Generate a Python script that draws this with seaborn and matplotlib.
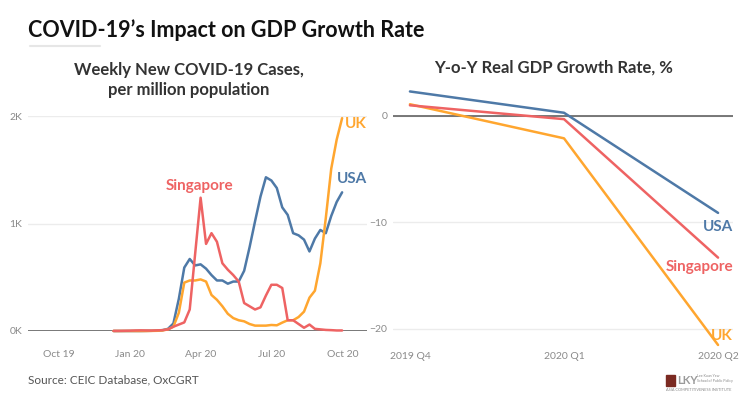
import matplotlib
matplotlib.use("Agg")
import matplotlib.pyplot as plt
import matplotlib.dates as mdates
from matplotlib.ticker import FuncFormatter
import seaborn as sns
import pandas as pd

# weekly new cases per million population
week_start = "2019-12-11"
n_weeks = 43
sg_cases = [1, 1, 2, 3, 5, 6, 5, 4, 6, 8,
            15, 40, 60, 80, 200, 720, 1240, 810, 910, 830,
            630, 570, 520, 460, 260, 230, 200, 220, 330, 430,
            430, 400, 100, 100, 65, 30, 60, 20, 15, 10,
            8, 5, 5]
usa_cases = [0, 0, 0, 0, 0, 0, 1, 2, 4, 8,
             20, 70, 300, 590, 670, 610, 620, 580, 520, 470,
             470, 440, 460, 460, 560, 780, 1020, 1250, 1430, 1400,
             1330, 1150, 1080, 910, 890, 850, 740, 860, 940, 910,
             1070, 1200, 1290]
uk_cases = [0, 0, 0, 0, 0, 0, 0, 1, 2, 5,
            15, 40, 170, 450, 470, 470, 480, 460, 335, 290,
            230, 160, 120, 100, 90, 65, 50, 50, 50, 56,
            53, 78, 100, 100, 130, 180, 310, 375, 630, 1050,
            1510, 1780, 1980]

# year-on-year real GDP growth, %
quarters = ["2019 Q4", "2020 Q1", "2020 Q2"]
usa_gdp = [2.3, 0.3, -9.1]
sg_gdp = [1.0, -0.3, -13.3]
uk_gdp = [1.1, -2.1, -21.5]

colors = {"USA": "#4E79A7", "Singapore": "#EE6363", "UK": "#FFA62F"}
order = ["USA", "UK", "Singapore"]

weeks = pd.date_range(week_start, periods=n_weeks, freq="7D")
cases = pd.concat([
    pd.DataFrame({"week": weeks, "cases": usa_cases, "country": "USA"}),
    pd.DataFrame({"week": weeks, "cases": uk_cases, "country": "UK"}),
    pd.DataFrame({"week": weeks, "cases": sg_cases, "country": "Singapore"}),
])
gdp = pd.concat([
    pd.DataFrame({"quarter": quarters, "growth": usa_gdp, "country": "USA"}),
    pd.DataFrame({"quarter": quarters, "growth": uk_gdp, "country": "UK"}),
    pd.DataFrame({"quarter": quarters, "growth": sg_gdp, "country": "Singapore"}),
])

sns.set_style("white")
plt.rcParams["font.family"] = ["Lato", "DejaVu Sans"]

fig = plt.figure(figsize=(7.49, 3.94), dpi=100)
ax1 = fig.add_axes([28 / 749, 63 / 394, 339 / 749, 215 / 394])
ax2 = fig.add_axes([393 / 749, 43.7 / 394, 340 / 749, 266.3 / 394])

tick_color = "#8a8a8a"

# left: weekly cases
sns.lineplot(data=cases, x="week", y="cases", hue="country", hue_order=order,
             palette=colors, linewidth=1.8, legend=False, ax=ax1, clip_on=False)
ax1.set_xlim(pd.Timestamp("2019-08-23"), pd.Timestamp("2020-11-01"))
ax1.set_ylim(0, 2000)
ax1.set_yticks([0, 1000, 2000])
ax1.yaxis.set_major_formatter(FuncFormatter(lambda v, p: f"{int(v / 1000)}K"))
ax1.set_xticks(pd.to_datetime(["2019-10-01", "2020-01-01", "2020-04-01",
                               "2020-07-01", "2020-10-01"]))
ax1.xaxis.set_major_formatter(mdates.DateFormatter("%b %y"))
ax1.grid(axis="y", color="#ececec", linewidth=1)
ax1.axhline(0, color="#555555", linewidth=1.1, zorder=1)
ax1.set_xlabel("")
ax1.set_ylabel("")
ax1.tick_params(axis="x", length=0, pad=14, labelsize=7.5, labelcolor=tick_color)
ax1.tick_params(axis="y", length=0, pad=4, labelsize=7.5, labelcolor=tick_color)
for s in ax1.spines.values():
    s.set_visible(False)

ax1.text(pd.Timestamp("2020-03-30"), 1350, "Singapore", color=colors["Singapore"],
         fontsize=11, fontweight="bold", ha="center", va="center")
ax1.text(pd.Timestamp("2020-10-13"), 1414, "USA", color=colors["USA"],
         fontsize=11, fontweight="bold", ha="center", va="center")
ax1.text(pd.Timestamp("2020-10-18"), 1926, "UK", color=colors["UK"],
         fontsize=11, fontweight="bold", ha="center", va="center")

# right: GDP growth
sns.lineplot(data=gdp, x="quarter", y="growth", hue="country", hue_order=order,
             palette=colors, linewidth=1.8, legend=False, ax=ax2, clip_on=False)
ax2.set_xlim(-0.11, 2.097)
ax2.set_ylim(-22, 3)
ax2.set_yticks([0, -10, -20])
ax2.grid(axis="y", color="#ececec", linewidth=1)
ax2.axhline(0, color="#555555", linewidth=1.1, zorder=1)
ax2.set_xlabel("")
ax2.set_ylabel("")
ax2.tick_params(axis="x", length=0, pad=1, labelsize=7.5, labelcolor=tick_color)
ax2.tick_params(axis="y", length=0, pad=4, labelsize=7.5, labelcolor=tick_color)
for s in ax2.spines.values():
    s.set_visible(False)

ax2.text(2.097, -10.4, "USA", color=colors["USA"], fontsize=11,
         fontweight="bold", ha="right", va="center")
ax2.text(2.097, -14.2, "Singapore", color=colors["Singapore"], fontsize=11,
         fontweight="bold", ha="right", va="center")
ax2.text(2.097, -20.7, "UK", color=colors["UK"], fontsize=11,
         fontweight="bold", ha="right", va="center")

# titles and notes
fig.text(28 / 749, 1 - 30 / 394, "COVID-19\u2019s Impact on GDP Growth Rate",
         fontsize=15.5, fontweight="bold", color="#111111", ha="left", va="center")
fig.add_artist(plt.Line2D([30 / 749, 100 / 749], [1 - 45.5 / 394] * 2,
                          color="#e6e6e6", linewidth=1.5))
fig.text(189 / 749, 1 - 80 / 394, "Weekly New COVID-19 Cases,\nper million population",
         fontsize=12, fontweight="bold", color="#333333", ha="center", va="center",
         linespacing=1.3)
fig.text(554 / 749, 1 - 68 / 394, "Y-o-Y Real GDP Growth Rate, %",
         fontsize=12, fontweight="bold", color="#333333", ha="center", va="center")
fig.text(28 / 749, 1 - 380 / 394, "Source: CEIC Database, OxCGRT",
         fontsize=8.5, color="#555555", ha="left", va="center")

# small institute logo
fig.add_artist(plt.Rectangle((666 / 749, 1 - 386 / 394), 9 / 749, 11 / 394,
                             color="#7b2a22", transform=fig.transFigure))
fig.text(677 / 749, 1 - 381 / 394, "LKY", fontsize=8, fontweight="bold",
         color="#9a9a9a", ha="left", va="center")
fig.text(697 / 749, 1 - 378.5 / 394, "Lee Kuan Yew\nSchool of Public Policy",
         fontsize=2.6, color="#888888", ha="left", va="center")
fig.text(666 / 749, 1 - 390 / 394, "ASIA COMPETITIVENESS INSTITUTE",
         fontsize=2.8, color="#888888", ha="left", va="center")

fig.savefig("out.png", dpi=100)
